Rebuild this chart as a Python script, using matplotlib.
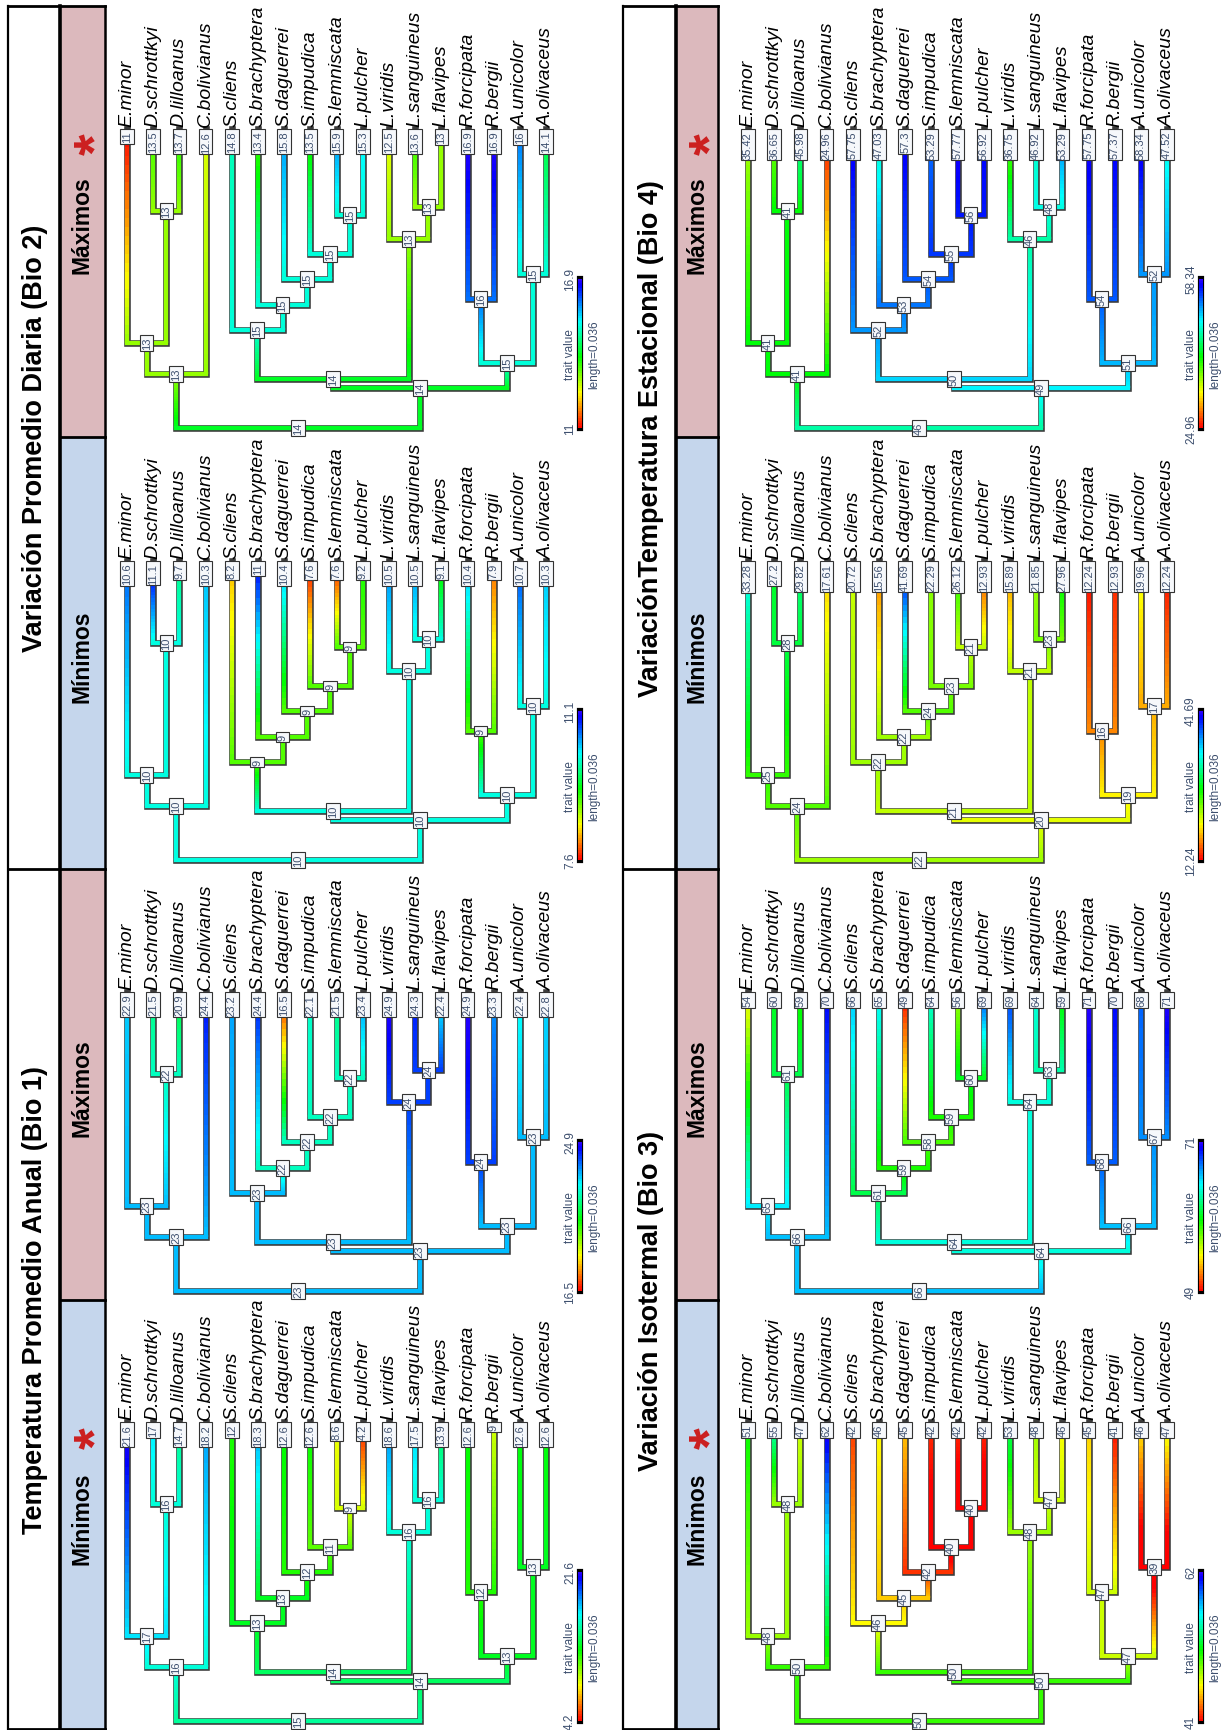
import numpy as np
import matplotlib
matplotlib.use("Agg")
import matplotlib.pyplot as plt
from matplotlib.collections import LineCollection
from matplotlib.colors import LinearSegmentedColormap, Normalize
from matplotlib.patches import Rectangle
import colorsys

plt.rcParams["font.family"] = ["Liberation Sans", "DejaVu Sans"]

# ---------------- data ----------------
species = ["E.minor", "D.schrottkyi", "D.lilloanus", "C.bolivianus", "S.cliens",
           "S.brachyptera", "S.daguerrei", "S.impudica", "S.lemniscata", "L.pulcher",
           "L.viridis", "L.sanguineus", "L.flavipes", "R.forcipata", "R.bergii",
           "A.unicolor", "A.olivaceus"]

node_names = ["root", "cladeA", "ED", "D", "big", "SL", "Sroot", "S2", "S3", "S4",
              "LP", "Lroot", "L2", "RA", "R", "A"]
node_children = [("cladeA", "big"), ("ED", "C.bolivianus"), ("E.minor", "D"),
                 ("D.schrottkyi", "D.lilloanus"), ("SL", "RA"), ("Sroot", "Lroot"),
                 ("S.cliens", "S2"), ("S.brachyptera", "S3"), ("S.daguerrei", "S4"),
                 ("S.impudica", "LP"), ("S.lemniscata", "L.pulcher"), ("L.viridis", "L2"),
                 ("L.sanguineus", "L.flavipes"), ("R", "A"), ("R.forcipata", "R.bergii"),
                 ("A.unicolor", "A.olivaceus")]
node_heights = [0.0, 0.0130, 0.0205, 0.0523, 0.0096, 0.0118, 0.0236, 0.0296, 0.0359,
                0.0419, 0.0513, 0.0455, 0.0532, 0.0157, 0.0311, 0.0371]
tree_height = 0.072
legend_length = 0.036

bio1_min_tips = [21.6, 17, 14.7, 18.2, 12, 18.3, 12.6, 12.6, 8.6, 4.2, 18.6, 17.5, 13.9, 12.6, 9, 12.6, 12.6]
bio1_min_nodes = [15, 16, 17, 16, 14, 14, 13, 13, 12, 11, 9, 16, 16, 13, 12, 13]
bio1_max_tips = [22.9, 21.5, 20.9, 24.4, 23.2, 24.4, 16.5, 22.1, 21.5, 23.4, 24.9, 24.3, 22.4, 24.9, 23.3, 22.4, 22.8]
bio1_max_nodes = [23, 23, 23, 22, 23, 23, 23, 22, 22, 22, 22, 24, 24, 23, 24, 23]
bio2_min_tips = [10.6, 11.1, 9.7, 10.3, 8.2, 11, 10.4, 7.6, 7.6, 9.2, 10.5, 10.5, 9.1, 10.4, 7.9, 10.7, 10.3]
bio2_min_nodes = [10, 10, 10, 10, 10, 10, 9, 9, 9, 9, 9, 10, 10, 10, 9, 10]
bio2_max_tips = [11, 13.5, 13.7, 12.6, 14.8, 13.4, 15.8, 13.5, 15.9, 15.3, 12.5, 13.6, 13, 16.9, 16.9, 16, 14.1]
bio2_max_nodes = [14, 13, 13, 13, 14, 14, 15, 15, 15, 15, 15, 13, 13, 15, 16, 15]
bio3_min_tips = [51, 55, 47, 62, 42, 46, 45, 42, 42, 42, 53, 48, 46, 45, 41, 46, 47]
bio3_min_nodes = [50, 50, 48, 48, 50, 50, 46, 45, 42, 40, 40, 48, 47, 47, 47, 39]
bio3_max_tips = [54, 60, 59, 70, 66, 65, 49, 64, 56, 69, 69, 64, 59, 71, 70, 68, 71]
bio3_max_nodes = [66, 66, 65, 61, 64, 64, 61, 59, 58, 59, 60, 64, 63, 66, 68, 67]
bio4_min_tips = [33.28, 27.2, 29.82, 17.61, 20.72, 15.56, 41.69, 22.29, 26.12, 12.93, 15.89, 21.85, 27.96, 12.24, 12.93, 19.96, 12.24]
bio4_min_nodes = [22, 24, 25, 28, 20, 21, 22, 22, 24, 23, 21, 21, 23, 19, 16, 17]
bio4_max_tips = [35.42, 36.65, 45.98, 24.96, 57.75, 47.03, 57.3, 53.29, 57.77, 56.92, 36.75, 46.92, 53.29, 57.75, 57.37, 58.34, 47.52]
bio4_max_nodes = [46, 41, 41, 41, 49, 50, 52, 53, 54, 55, 56, 46, 48, 51, 54, 52]

titles = ["Variación Promedio Diaria (Bio 2)", "Temperatura Promedio Anual (Bio 1)",
          "VariaciónTemperatura Estacional (Bio 4)", "Variación Isotermal (Bio 3)"]
header_min = "Mínimos"
header_max = "Máximos"

# panels: (column, row, tips, nodes, header kind, asterisk)
panels = [
    (0, 0, bio2_max_tips, bio2_max_nodes, "max", True),
    (0, 1, bio2_min_tips, bio2_min_nodes, "min", False),
    (0, 2, bio1_max_tips, bio1_max_nodes, "max", False),
    (0, 3, bio1_min_tips, bio1_min_nodes, "min", True),
    (1, 0, bio4_max_tips, bio4_max_nodes, "max", True),
    (1, 1, bio4_min_tips, bio4_min_nodes, "min", False),
    (1, 2, bio3_max_tips, bio3_max_nodes, "max", False),
    (1, 3, bio3_min_tips, bio3_min_nodes, "min", True),
]

# ---------------- layout (pixels) ----------------
W, H = 1231, 1731
block_edges = [7, 438, 870, 1301, 1731]
title_cols = [(8, 60), (623, 676)]
header_cols = [(60, 105), (676, 718)]
tree_areas = [(105, 623), (718, 1231)]
first_tip_px = [127, 748]
tip_px = 26.2
root_gap_px = 9
px_per_unit = 299 / tree_height
col_min = "#c5d6ec"
col_max = "#dcb9bd"
box_text_col = "#3d4f6e"

# rainbow(start=0, end=0.7) colour ramp as in phytools contMap
ramp = [colorsys.hsv_to_rgb(0.7 * t, 1, 1) for t in np.linspace(0, 1, 256)]
cmap = LinearSegmentedColormap.from_list("contmap", ramp)

fig = plt.figure(figsize=(W / 100, H / 100), dpi=100)
bg = fig.add_axes([0, 0, 1, 1])
bg.set_xlim(0, W)
bg.set_ylim(H, 0)
bg.axis("off")

# header boxes
for col, row, _, _, kind, star in panels:
    hx0, hx1 = header_cols[col]
    y0, y1 = block_edges[row], block_edges[row + 1]
    bg.add_patch(Rectangle((hx0, y0), hx1 - hx0, y1 - y0,
                           fc=col_min if kind == "min" else col_max, ec="none", zorder=0))
    cx = (hx0 + hx1) / 2
    cy = (y0 + y1) / 2
    bg.text(cx, cy + 3, header_min if kind == "min" else header_max, rotation=90,
            rotation_mode="anchor", ha="center", va="center", fontsize=16.5,
            fontweight="bold", color="black", zorder=3)
    if star:
        bg.text(cx + 0.575 * 40 / 72 * 100 - 2, cy - 78, "*", rotation=90,
                rotation_mode="anchor", ha="center", va="baseline", fontsize=40,
                fontweight="bold", color="#cc1f1f", zorder=3)

# titles
for i, t in enumerate(titles):
    col = i // 2
    tx0, tx1 = title_cols[col]
    rows = (0, 2) if i % 2 == 0 else (2, 4)
    cy = (block_edges[rows[0]] + block_edges[rows[1]]) / 2
    bg.text((tx0 + tx1) / 2 + 1, cy, t, rotation=90, rotation_mode="anchor",
            ha="center", va="center", fontsize=19.5, fontweight="bold", color="black")

# frame lines
lk = dict(color="black", zorder=2, solid_capstyle="projecting")
for col in range(2):
    tx0, tx1 = title_cols[col]
    hx0, hx1 = header_cols[col]
    bg.plot([tx0, tx0], [block_edges[0], H], lw=1.6, **lk)
    bg.plot([tx1, tx1], [block_edges[0], H], lw=2.6, **lk)
    bg.plot([hx1, hx1], [block_edges[0], H], lw=1.8, **lk)
    for yy in (block_edges[0], block_edges[2], H - 1):
        bg.plot([tx0, hx1], [yy, yy], lw=2.0, **lk)
    for yy in (block_edges[1], block_edges[3]):
        bg.plot([hx0, hx1], [yy, yy], lw=2.0, **lk)

LW = 4.3 * 0.72
OLW = 6.6 * 0.72
NSEG = 24


def fmt(v):
    return f"{v:g}"


def draw_tree(col, row, tips, nodes):
    xa0, xa1 = tree_areas[col]
    y_top, y_bot = block_edges[row], block_edges[row + 1]
    ax = fig.add_axes([xa0 / W, (H - y_bot) / H, (xa1 - xa0) / W, (y_bot - y_top) / H])
    x0 = first_tip_px[col]
    ax.set_xlim((xa0 - x0) / tip_px, (xa1 - x0) / tip_px)
    ax.set_ylim(-root_gap_px / px_per_unit, (y_bot - y_top - root_gap_px) / px_per_unit)
    ax.axis("off")

    lo, hi = min(tips), max(tips)
    norm = Normalize(lo, hi, clip=True)

    xs, hs, vals = {}, {}, {}
    for i, s in enumerate(species):
        xs[s] = float(i)
        hs[s] = tree_height
        vals[s] = tips[i]
    children = dict(zip(node_names, node_children))
    for n, h, v in zip(node_names, node_heights, nodes):
        hs[n] = h
        vals[n] = v

    def xpos(n):
        if n not in xs:
            xs[n] = np.mean([xpos(c) for c in children[n]])
        return xs[n]

    xpos("root")

    outl, hseg, hcol, vseg, vcol = [], [], [], [], []
    for n in node_names:
        for c in children[n]:
            outl.append([(xs[n], hs[n]), (xs[c], hs[n]), (xs[c], hs[c])])
            hseg.append([(xs[n], hs[n]), (xs[c], hs[n])])
            hcol.append(cmap(norm(vals[n])))
            t = np.linspace(0, 1, NSEG + 1)
            hh = hs[n] + t * (hs[c] - hs[n])
            vv = vals[n] + t * (vals[c] - vals[n])
            for k in range(NSEG):
                vseg.append([(xs[c], hh[k]), (xs[c], hh[k + 1])])
                vcol.append(cmap(norm(0.5 * (vv[k] + vv[k + 1]))))

    ax.add_collection(LineCollection(outl, colors="#3c3c3c", linewidths=OLW,
                                     capstyle="projecting", joinstyle="miter", zorder=1))
    ax.add_collection(LineCollection(vseg, colors=vcol, linewidths=LW,
                                     capstyle="butt", zorder=2))
    ax.add_collection(LineCollection(hseg, colors=hcol, linewidths=LW,
                                     capstyle="projecting", zorder=3))

    boxk = dict(boxstyle="square,pad=0.16", fc="#f6f8fb", ec="#333333", lw=0.8)
    pad_units = 1.8 / px_per_unit
    for i, s in enumerate(species):
        ax.text(xs[s], tree_height - pad_units, fmt(tips[i]), rotation=90,
                rotation_mode="anchor", ha="right", va="center", fontsize=8,
                color=box_text_col, bbox=boxk, zorder=5)
        ax.text(xs[s], tree_height + 3.0 / px_per_unit, s, rotation=90,
                rotation_mode="anchor", ha="left", va="center", fontsize=14,
                style="italic", color="black", zorder=5)
    for n, v in zip(node_names, nodes):
        ax.text(xs[n], hs[n], f"{v:.0f}", rotation=90, rotation_mode="anchor",
                ha="center", va="center", fontsize=8, color=box_text_col,
                bbox=boxk, zorder=6)

    # colour legend
    xcb = (580 - 127) / tip_px
    t = np.linspace(0, 1, 61)
    cseg = [[(xcb, legend_length * t[k]), (xcb, legend_length * t[k + 1])] for k in range(60)]
    ccol = [cmap(0.5 * (t[k] + t[k + 1])) for k in range(60)]
    ax.plot([xcb, xcb], [0, legend_length], color="black", lw=6.2 * 0.72,
            solid_capstyle="projecting", zorder=1)
    ax.add_collection(LineCollection(cseg, colors=ccol, linewidths=4.0 * 0.72,
                                     capstyle="butt", zorder=2))
    lab = dict(rotation=90, rotation_mode="anchor", ha="center", va="center",
               fontsize=8.5, color=box_text_col)
    ax.text(xcb - 10 / tip_px, 0, fmt(lo), **lab)
    ax.text(xcb - 10 / tip_px, legend_length, fmt(hi), **lab)
    ax.text(xcb - 10 / tip_px, legend_length / 2, "trait value", **lab)
    ax.text(xcb + 14 / tip_px, legend_length / 2, f"length={legend_length:g}", **lab)


for col, row, tips, nodes, kind, star in panels:
    draw_tree(col, row, tips, nodes)

fig.savefig("out.png", dpi=100, facecolor="white")
